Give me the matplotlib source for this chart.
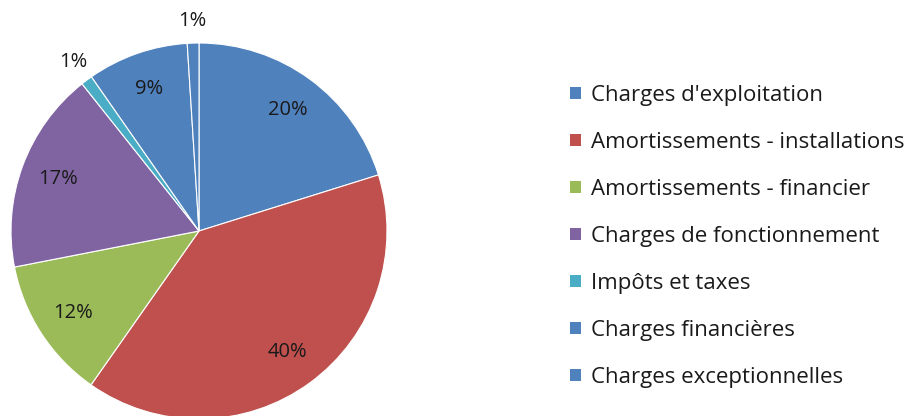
import numpy as np
import matplotlib.pyplot as plt
from matplotlib.patches import Patch

plt.rcParams['font.family'] = ['Open Sans', 'DejaVu Sans']

# data
categories = ["Charges d'exploitation", "Amortissements - installations",
              "Amortissements - financier", "Charges de fonctionnement",
              "Impôts et taxes", "Charges financières", "Charges exceptionnelles"]
shares = [20.2, 39.6, 12.2, 17.4, 1.0, 8.7, 1.0]
colors = ['#4F81BD', '#C0504D', '#9BBB59', '#8064A2', '#4BACC6', '#4F81BD', '#4F81BD']

W, H = 913, 416
fig = plt.figure(figsize=(W / 100, H / 100), dpi=100)
cx, cy, r = 199, 231, 188
ax = fig.add_axes([(cx - r) / W, (H - cy - r) / H, 2 * r / W, 2 * r / H])

wedges, texts = ax.pie(shares, colors=colors, startangle=90, counterclock=False,
                       wedgeprops={'linewidth': 0.8, 'edgecolor': 'white'})
ax.set_xlim(-1, 1)
ax.set_ylim(-1, 1)
ax.set_aspect('equal')
ax.axis('off')

total = sum(shares)
for w, v in zip(wedges, shares):
    mid = np.deg2rad((w.theta1 + w.theta2) / 2)
    dist = 1.12 if v < 2 else 0.8
    ax.text(dist * np.cos(mid), dist * np.sin(mid), f'{round(v / total * 100):.0f}%',
            ha='center', va='center', fontsize=14.5, color='#1a1a1a', clip_on=False)

handles = [Patch(facecolor=c, edgecolor='none') for c in colors]
fig.legend(handles, categories, loc='upper left', bbox_to_anchor=(570 / W, 1 - 85 / H),
           frameon=False, fontsize=16, handlelength=0.5, handleheight=0.5,
           handletextpad=0.45, labelspacing=1.17, borderpad=0, borderaxespad=0,
           labelcolor='#1a1a1a')

fig.savefig('out.png', dpi=100)
